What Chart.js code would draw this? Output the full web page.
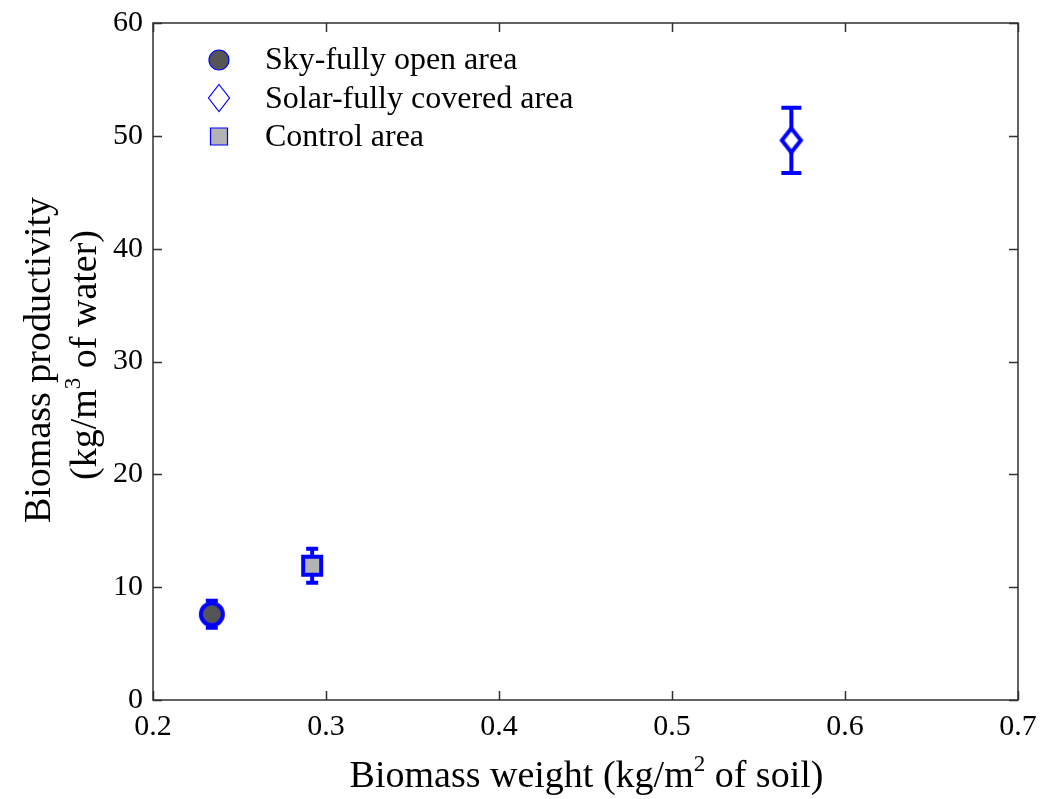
<!DOCTYPE html>
<html>
<head>
<meta charset="utf-8">
<script src="https://cdn.jsdelivr.net/npm/chart.js@4/dist/chart.umd.min.js"></script>
<style>
html,body{margin:0;padding:0;background:#fff;}
#c{display:block;}
</style>
</head>
<body>
<canvas id="c" width="1058" height="799"></canvas>
<script>
// ---- data ----
const seriesNames = ['Sky-fully open area', 'Solar-fully covered area', 'Control area'];
const xValues = [0.234, 0.569, 0.292];
const yValues = [7.6, 49.6, 11.9];
const yErrors = [1.2, 2.9, 1.5];
const xTickValues = [0.2, 0.3, 0.4, 0.5, 0.6, 0.7];
const yTickValues = [0, 10, 20, 30, 40, 50, 60];

const FONT = '"Liberation Serif", "Times New Roman", serif';
const BLUE = '#0000ff';
const AXIS = '#303030';

function markerCanvas(kind, big) {
  const s = 44;
  const c = document.createElement('canvas');
  c.width = s; c.height = s;
  const g = c.getContext('2d');
  const m = s / 2;
  g.strokeStyle = BLUE;
  g.lineWidth = big ? 4 : 1.2;
  g.lineJoin = 'miter';
  g.beginPath();
  if (kind === 'circle') {
    g.fillStyle = '#555555';
    g.arc(m, m, big ? 11 : 10, 0, Math.PI * 2);
  } else if (kind === 'diamond') {
    g.fillStyle = '#ffffff';
    const hw = big ? 9.5 : 10.5, hh = big ? 12 : 13.5;
    g.moveTo(m, m - hh); g.lineTo(m + hw, m); g.lineTo(m, m + hh); g.lineTo(m - hw, m); g.closePath();
  } else {
    g.fillStyle = '#b3b3b3';
    const h = big ? 9 : 8.5;
    g.rect(m - h, m - h, 2 * h, 2 * h);
  }
  g.fill();
  g.stroke();
  return c;
}
const kinds = ['circle', 'diamond', 'square'];
const plotMarkers = kinds.map(k => markerCanvas(k, true));
const legendMarkers = kinds.map(k => markerCanvas(k, false));
const capHalf = [6, 10, 6];

const datasets = seriesNames.map((name, i) => ({
  label: name,
  data: [{x: xValues[i], y: yValues[i]}],
  pointStyle: plotMarkers[i],
  pointRadius: 22,
  pointHoverRadius: 22,
  showLine: false
}));

const framePlugin = {
  id: 'frame',
  beforeDatasetsDraw(chart) {
    const {ctx, scales: {x, y}} = chart;
    ctx.save();
    ctx.strokeStyle = BLUE;
    ctx.lineWidth = 4;
    ctx.lineCap = 'butt';
    for (let i = 0; i < xValues.length; i++) {
      const px = x.getPixelForValue(xValues[i]);
      const top = y.getPixelForValue(yValues[i] + yErrors[i]);
      const bot = y.getPixelForValue(yValues[i] - yErrors[i]);
      ctx.beginPath();
      ctx.moveTo(px, top); ctx.lineTo(px, bot);
      ctx.moveTo(px - capHalf[i], top); ctx.lineTo(px + capHalf[i], top);
      ctx.moveTo(px - capHalf[i], bot); ctx.lineTo(px + capHalf[i], bot);
      ctx.stroke();
    }
    ctx.restore();
  },
  afterDraw(chart) {
    const {ctx, chartArea: a, scales: {x, y}} = chart;
    ctx.save();
    ctx.strokeStyle = AXIS;
    ctx.lineWidth = 1.5;
    ctx.strokeRect(a.left, a.top, a.right - a.left, a.bottom - a.top);
    const tl = 9;
    ctx.beginPath();
    xTickValues.forEach(v => {
      const px = Math.round(x.getPixelForValue(v)) + 0.5;
      ctx.moveTo(px, a.bottom); ctx.lineTo(px, a.bottom - tl);
      ctx.moveTo(px, a.top); ctx.lineTo(px, a.top + tl);
    });
    yTickValues.forEach(v => {
      const py = Math.round(y.getPixelForValue(v)) + 0.5;
      ctx.moveTo(a.left, py); ctx.lineTo(a.left + tl, py);
      ctx.moveTo(a.right, py); ctx.lineTo(a.right - tl, py);
    });
    ctx.stroke();

    // axis titles with superscripts
    ctx.fillStyle = '#000';
    const tf = 38, sf = 23, rise = 16;
    function drawRich(parts, cx, cy) {
      let w = 0;
      parts.forEach(p => { ctx.font = (p[1] ? sf : tf) + 'px ' + FONT; w += ctx.measureText(p[0]).width; });
      let xx = cx - w / 2;
      ctx.textBaseline = 'alphabetic';
      ctx.textAlign = 'left';
      parts.forEach(p => {
        ctx.font = (p[1] ? sf : tf) + 'px ' + FONT;
        ctx.fillText(p[0], xx, p[1] ? cy - rise : cy);
        xx += ctx.measureText(p[0]).width;
      });
    }
    drawRich([['Biomass weight (kg/m', false], ['2', true], [' of soil)', false]], (a.left + a.right) / 2 + 1, 787);
    ctx.save();
    ctx.translate(0, 360);
    ctx.rotate(-Math.PI / 2);
    drawRich([['Biomass productivity', false]], 0, 50);
    drawRich([['(kg/m', false], ['3', true], [' of water)', false]], 5, 96);
    ctx.restore();

    // legend
    const lx = 219, my = [60, 98, 136.5], by = [69, 107.5, 146];
    ctx.font = '32px ' + FONT;
    ctx.textBaseline = 'alphabetic';
    ctx.textAlign = 'left';
    seriesNames.forEach((n, i) => {
      ctx.drawImage(legendMarkers[i], lx - 22, my[i] - 22);
      ctx.fillText(n, 265, by[i]);
    });
    ctx.restore();
  }
};

new Chart(document.getElementById('c'), {
  type: 'scatter',
  data: {datasets},
  options: {
    responsive: false,
    animation: false,
    devicePixelRatio: 1,
    layout: {padding: {top: 22, right: 40, left: 0, bottom: 0}},
    plugins: {legend: {display: false}, tooltip: {enabled: false}},
    scales: {
      x: {
        type: 'linear', min: 0.2, max: 0.7,
        grid: {display: false, drawTicks: false},
        border: {display: false},
        afterBuildTicks: s => { s.ticks = xTickValues.map(v => ({value: v})); },
        afterFit: s => { s.height = 99; s.paddingLeft = 0; s.paddingRight = 0; },
        ticks: {
          color: '#000', padding: 9,
          font: {family: FONT, size: 30},
          callback: v => v.toFixed(1)
        }
      },
      y: {
        type: 'linear', min: 0, max: 60,
        grid: {display: false, drawTicks: false},
        border: {display: false},
        afterBuildTicks: s => { s.ticks = yTickValues.map(v => ({value: v})); },
        afterFit: s => { s.width = 153; s.paddingTop = 0; s.paddingBottom = 0; },
        ticks: {
          color: '#000', padding: 10,
          font: {family: FONT, size: 30},
          callback: v => String(v)
        }
      }
    }
  },
  plugins: [framePlugin]
});
</script>
</body>
</html>
